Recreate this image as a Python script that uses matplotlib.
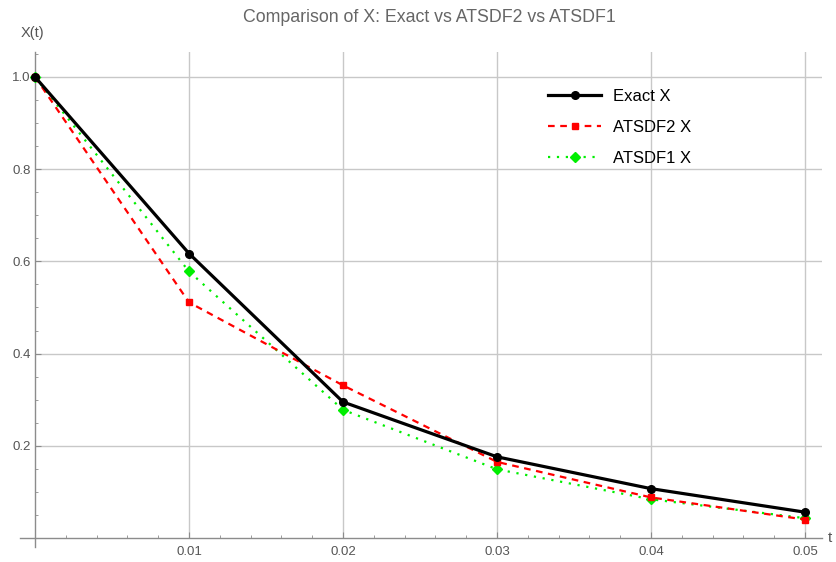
import matplotlib.pyplot as plt
from matplotlib.ticker import MultipleLocator

# ---- data ----
t = [0.0, 0.01, 0.02, 0.03, 0.04, 0.05]
exact_x = [1.0, 0.617, 0.295, 0.176, 0.107, 0.056]
atsdf2_x = [1.0, 0.511, 0.331, 0.165, 0.088, 0.040]
atsdf1_x = [1.0, 0.578, 0.278, 0.149, 0.084, 0.043]

x_ticks = [0.01, 0.02, 0.03, 0.04, 0.05]
x_tick_labels = ["0.01", "0.02", "0.03", "0.04", "0.05"]
y_ticks = [0.2, 0.4, 0.6, 0.8, 1.0]
y_tick_labels = ["0.2", "0.4", "0.6", "0.8", "1.0"]

plt.rcParams['font.family'] = ['Liberation Sans', 'DejaVu Sans']

fig = plt.figure(figsize=(8.37, 5.62), dpi=100)
ax = fig.add_axes([35 / 837, 24 / 562, 787 / 837, 486 / 562])

xmax = 0.0511
ymax = 1.054
ax.set_xlim(0, xmax)
ax.set_ylim(0, ymax)

axis_col = '#8c8c8c'
grid_col = '#c8c8c8'
text_col = '#555555'

# grid
for xv in x_ticks:
    ax.axvline(xv, color=grid_col, linewidth=1.0, zorder=0)
for yv in y_ticks:
    ax.axhline(yv, color=grid_col, linewidth=1.0, zorder=0)

for s in ax.spines.values():
    s.set_visible(False)

# axes lines, a little past the origin like Mathematica
ax.plot([-0.001, xmax], [0, 0], color=axis_col, linewidth=1.0,
        clip_on=False, zorder=1)
ax.plot([0, 0], [-0.02, ymax], color=axis_col, linewidth=1.0,
        clip_on=False, zorder=1)

# series
ax.plot(t, exact_x, color='black', linewidth=2.3, marker='o',
        markersize=5.5, label='Exact X', zorder=5, clip_on=False)
ax.plot(t, atsdf2_x, color='#ff0000', linewidth=1.6, linestyle=(0, (3, 2.5)),
        marker='s', markersize=5, label='ATSDF2 X', zorder=4, clip_on=False)
ax.plot(t, atsdf1_x, color='#00ee00', linewidth=1.6, linestyle=(0, (1, 3)),
        marker='D', markersize=5.5, label='ATSDF1 X', zorder=3, clip_on=False)

# ticks
ax.set_xticks(x_ticks)
ax.set_xticklabels(x_tick_labels)
ax.set_yticks(y_ticks)
ax.set_yticklabels(y_tick_labels)
ax.xaxis.set_minor_locator(MultipleLocator(0.002))
ax.yaxis.set_minor_locator(MultipleLocator(0.05))
ax.tick_params(axis='both', which='major', direction='in', length=4,
               width=0.8, color=axis_col, labelcolor=text_col, labelsize=9.5)
ax.tick_params(axis='both', which='minor', direction='in', length=2,
               width=0.6, color=axis_col)
ax.tick_params(axis='x', pad=6)
ax.tick_params(axis='y', pad=3)

# axis labels at the ends of the axes
ax.text(xmax + 0.0004, 0, 't', color=text_col, fontsize=11,
        ha='left', va='center', clip_on=False)
fig.text(32 / 837, 1 - 33 / 562, 'X(t)', color=text_col, fontsize=10.5,
         ha='center', va='center')

fig.text(0.513, 1 - 17 / 562, 'Comparison of X: Exact vs ATSDF2 vs ATSDF1',
         color='#666666', fontsize=12.8, ha='center', va='center')

ax.legend(loc='upper left', bbox_to_anchor=(533 / 837, 1 - 74 / 562),
          bbox_transform=fig.transFigure, frameon=False, fontsize=12,
          handlelength=3.2, handletextpad=0.7, labelspacing=0.95)

plt.savefig('out.png', dpi=100)
